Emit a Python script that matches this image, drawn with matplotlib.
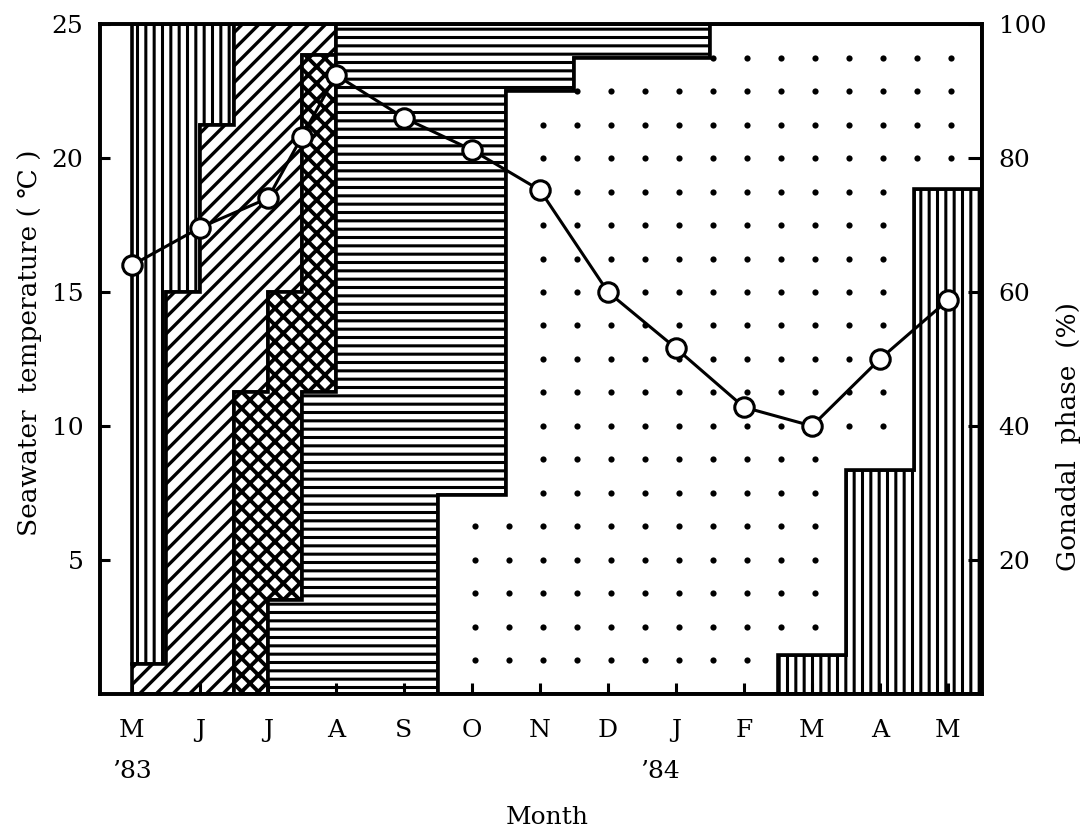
import numpy as np
import matplotlib
matplotlib.use('Agg')
import matplotlib.pyplot as plt
from matplotlib.path import Path

# Month labels (May '83 .. May '84), one tick per month
months = ['M', 'J', 'J', 'A', 'S', 'O', 'N', 'D', 'J', 'F', 'M', 'A', 'M']
year_marks = {0: '\u201983', 8: '\u201984'}

# Seawater temperature (°C), start of each month + one mid-July sample
temp_x = [0, 1, 2, 2.5, 3, 4, 5, 6, 7, 8, 9, 10, 11, 12]
temp_c = [16.0, 17.4, 18.5, 20.8, 23.1, 21.5, 20.3, 18.8, 15.0, 12.9, 10.7, 10.0, 12.5, 14.7]

# Gonadal phase composition (%), half-month samples
growing = [95.5, 40, 15, 0, 0, 0, 0, 0, 0, 0, 0, 0, 0,
           0, 0, 0, 0, 0, 0, 5.8, 5.8, 33.4, 33.4, 75.3, 75.3]
mature = [4.5, 60, 85, 55, 40, 4.6, 0, 0, 0, 0, 0, 0, 0,
          0, 0, 0, 0, 0, 0, 0, 0, 0, 0, 0, 0]
spawning = [0, 0, 0, 45, 46, 50.4, 0, 0, 0, 0, 0, 0, 0,
            0, 0, 0, 0, 0, 0, 0, 0, 0, 0, 0, 0]
spent = [0, 0, 0, 0, 14, 45, 100, 100, 100, 70.3, 70.3, 10, 10,
         5, 5, 5, 5, 0, 0, 0, 0, 0, 0, 0, 0]
resting = [0, 0, 0, 0, 0, 0, 0, 0, 0, 29.7, 29.7, 90, 90,
           95, 95, 95, 95, 100, 100, 94.2, 94.2, 66.6, 66.6, 24.7, 24.7]

phases = {'growing': growing, 'mature': mature, 'spawning': spawning,
          'spent': spent, 'resting': resting}
hatches = {'growing': '||||', 'mature': '////', 'spawning': 'xxxx',
           'spent': '----', 'resting': None}
hatch_lw = {'growing': 1.1, 'mature': 1.2, 'spawning': 1.4, 'spent': 1.1, 'resting': 1.0}
# stacking order (bottom -> top); the new cycle starts at the bottom in '84
order_83 = ['resting', 'spent', 'spawning', 'mature', 'growing']
order_84 = ['growing', 'resting', 'spent', 'spawning', 'mature']
new_cycle = 16
bin_w = 0.5

plt.rcParams['font.family'] = ['DejaVu Serif', 'DejaVu Sans']
plt.rcParams['hatch.linewidth'] = 1.1
plt.rcParams['hatch.color'] = 'black'

n = len(resting)
lo = {p: np.zeros(n) for p in phases}
hi = {p: np.zeros(n) for p in phases}
for i in range(n):
    base = 0.0
    for p in (order_84 if i >= new_cycle else order_83):
        lo[p][i] = base
        base += phases[p][i]
        hi[p][i] = base


def runs(vals):
    out, start = [], None
    for i, v in enumerate(vals):
        if v > 0 and start is None:
            start = i
        if v <= 0 and start is not None:
            out.append((start, i))
            start = None
    if start is not None:
        out.append((start, len(vals)))
    return out


def step_polygon(a, b, lo_v, hi_v):
    top, bot = [], []
    for k in range(a, b):
        top += [(k * bin_w, hi_v[k]), ((k + 1) * bin_w, hi_v[k])]
    for k in range(b - 1, a - 1, -1):
        bot += [((k + 1) * bin_w, lo_v[k]), (k * bin_w, lo_v[k])]
    return top + bot


fig = plt.figure(figsize=(5.44, 4.17), dpi=200)
ax = fig.add_axes([0.0919, 0.1679, 0.8107, 0.8033])
ax2 = ax.twinx()

for p, vals in phases.items():
    for a, b in runs(vals):
        poly = step_polygon(a, b, lo[p], hi[p])
        patches = ax2.fill(*zip(*poly), facecolor='white', edgecolor='black',
                           hatch=hatches[p], lw=1.3, zorder=1)
        for pa in patches:
            if hasattr(pa, 'set_hatch_linewidth'):
                pa.set_hatch_linewidth(hatch_lw[p])
        if p == 'resting':
            # sparse dot texture on a square grid, clipped to the region
            gx, gy = np.meshgrid(np.arange(0, 12.5, bin_w) + 0.05,
                                 np.arange(5, 100, 5))
            pts = np.column_stack([gx.ravel(), gy.ravel()])
            path = Path(poly)
            ok = (path.contains_points(pts) & path.contains_points(pts - [0.1, 0])
                  & path.contains_points(pts + [0, 2]) & path.contains_points(pts - [0, 2]))
            ax2.scatter(pts[ok, 0], pts[ok, 1], s=5, color='black', lw=0, zorder=2)

ax.plot(temp_x, temp_c, color='black', lw=1.1, marker='o', ms=7,
        mfc='white', mec='black', mew=1.1, zorder=5)

ax.set_zorder(ax2.get_zorder() + 1)
ax.patch.set_visible(False)

ax.set_xlim(-0.47, 12.5)
ax.set_ylim(0, 25)
ax2.set_ylim(0, 100)
ax.set_xticks(range(len(months)))
ax.set_xticklabels(months)
ax.set_yticks([5, 10, 15, 20, 25])
ax2.set_yticks([20, 40, 60, 80, 100])

ax.tick_params(axis='x', direction='in', length=4, width=1.1, pad=9, labelsize=9)
ax.tick_params(axis='y', direction='in', length=3.5, width=1.1, pad=6, labelsize=9)
ax2.tick_params(axis='y', direction='in', length=5, width=1.1, pad=6, labelsize=9)
for a in (ax, ax2):
    for s in a.spines.values():
        s.set_linewidth(1.3)

tr = ax.get_xaxis_transform()
for m, yr in year_marks.items():
    ax.text(m - (0.24 if m else 0), -0.116, yr, transform=tr, ha='center', va='center', fontsize=9)
ax.text(6.1, -0.185, 'Month', transform=tr, ha='center', va='center', fontsize=9)

ax.set_ylabel('Seawater  temperature ( \u2103 )', fontsize=9.5)
ax.yaxis.set_label_coords(-0.066, 0.524)
ax2.set_ylabel('Gonadal  phase  (%)', fontsize=9.5)
ax2.yaxis.set_label_coords(1.084, 0.384)

fig.savefig('out.png', dpi=200)
